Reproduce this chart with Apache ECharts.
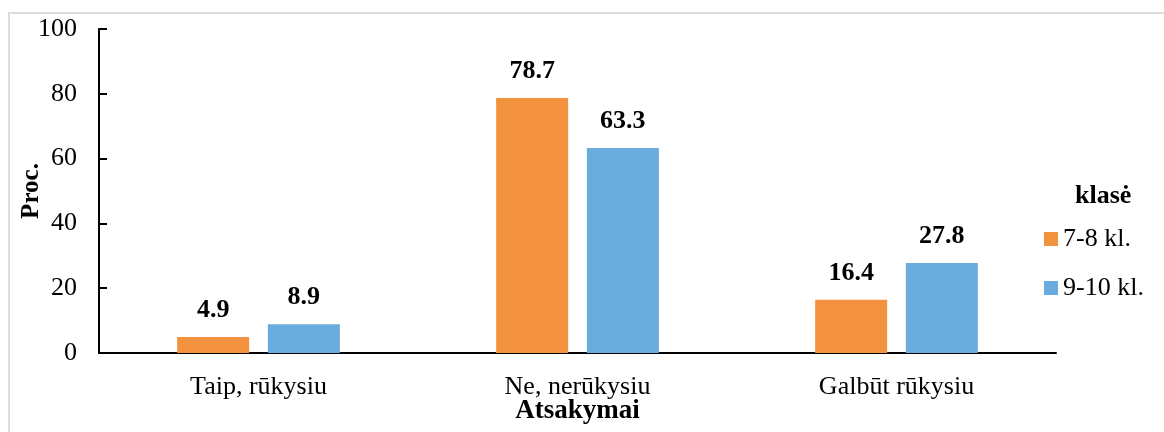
<!DOCTYPE html>
<html>
<head>
<meta charset="utf-8">
<script src="https://cdn.jsdelivr.net/npm/echarts@6/dist/echarts.min.js"></script>
<style>
  html, body { margin: 0; padding: 0; background: #fff; }
  #frame { position: absolute; left: 8px; top: 12px; width: 1170px; height: 440px;
           border-top: 2px solid #dcdcdc; border-left: 2px solid #dcdcdc; }
  #chart { position: absolute; left: 0; top: 0; width: 1164px; height: 432px; }
</style>
</head>
<body>
<div id="frame"></div>
<div id="chart"></div>
<script>
// answers (x axis categories)
const categories = ['Taip, rūkysiu', 'Ne, nerūkysiu', 'Galbūt rūkysiu']
// percentages per grade group
const grade78 = [4.9, 78.7, 16.4]
const grade910 = [8.9, 63.3, 27.8]
const seriesNames = ['7-8 kl.', '9-10 kl.']
const yTicks = [0, 20, 40, 60, 80, 100]

const FONT = '"Liberation Serif", "Times New Roman", serif'
const colors = ['#F2923F', '#6BACDE']

const chart = echarts.init(document.getElementById('chart'), null, { renderer: 'canvas' })

const barLabel = {
  show: true,
  position: 'top',
  distance: 14,
  fontFamily: FONT,
  fontSize: 26,
  fontWeight: 'bold',
  color: '#000',
  formatter: p => p.value.toFixed(1),
}

chart.setOption({
  animation: false,
  backgroundColor: 'transparent',
  textStyle: { fontFamily: FONT },
  grid: { left: 99, right: 108, top: 29, bottom: 79, containLabel: false, outerBoundsMode: 'none' },
  legend: {
    orient: 'vertical',
    left: 1039,
    top: 221,
    itemWidth: 14,
    itemHeight: 14,
    itemGap: 23,
    icon: 'rect',
    data: seriesNames,
    textStyle: { fontFamily: FONT, fontSize: 26, color: '#000' },
  },
  graphic: [{
    type: 'text',
    left: 1075,
    top: 183,
    style: { text: 'klasė', fontFamily: FONT, fontSize: 26, fontWeight: 'bold', fill: '#000' },
  }],
  xAxis: {
    type: 'category',
    data: categories,
    name: 'Atsakymai',
    nameLocation: 'middle',
    nameGap: 45,
    nameMoveOverlap: false,
    nameTextStyle: { fontFamily: FONT, fontSize: 27, fontWeight: 'bold', color: '#000' },
    axisLine: { lineStyle: { color: '#000', width: 2 } },
    axisTick: { show: false },
    axisLabel: { fontFamily: FONT, fontSize: 26, color: '#000', margin: 21 },
  },
  yAxis: {
    type: 'value',
    min: yTicks[0],
    max: yTicks[yTicks.length - 1],
    interval: 20,
    name: 'Proc.',
    nameLocation: 'middle',
    nameGap: 55,
    nameMoveOverlap: false,
    nameRotate: 90,
    nameTextStyle: { fontFamily: FONT, fontSize: 25, fontWeight: 'bold', color: '#000' },
    axisLine: { show: true, lineStyle: { color: '#000', width: 2 } },
    axisTick: { show: true, inside: true, length: 8, lineStyle: { color: '#000', width: 2 } },
    splitLine: { show: false },
    axisLabel: { fontFamily: FONT, fontSize: 26, color: '#000', margin: 22 },
  },
  series: [
    {
      name: seriesNames[0],
      type: 'bar',
      data: grade78,
      barWidth: 72,
      barGap: '26%',
      itemStyle: { color: colors[0] },
      label: barLabel,
    },
    {
      name: seriesNames[1],
      type: 'bar',
      data: grade910,
      barWidth: 72,
      barGap: '26%',
      itemStyle: { color: colors[1] },
      label: barLabel,
    },
  ],
})
</script>
</body>
</html>
